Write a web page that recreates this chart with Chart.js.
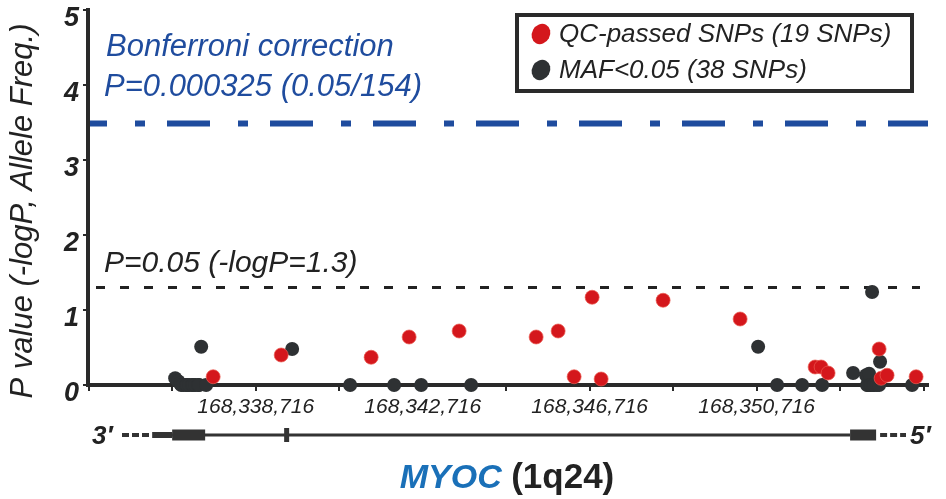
<!DOCTYPE html>
<html>
<head>
<meta charset="utf-8">
<script src="https://cdn.jsdelivr.net/npm/chart.js@4.4.1/dist/chart.umd.min.js"></script>
<style>
  html, body { margin: 0; padding: 0; background: #fff; }
</style>
</head>
<body>
<canvas id="chart" width="946" height="499"></canvas>
<script>
// SNP positions (bp, chr1) and -logP values
const qcPos = [168337698, 168339327, 168341482, 168342392, 168343590, 168345434, 168345961,
  168346344, 168346775, 168346991, 168348475, 168350320, 168352116, 168352260, 168352427,
  168353649, 168353697, 168353840, 168354535];
const qcLogP = [0.11, 0.40, 0.37, 0.64, 0.72, 0.64, 0.72, 0.11, 1.17, 0.08, 1.13, 0.88,
  0.24, 0.24, 0.16, 0.48, 0.09, 0.13, 0.11];

const mafPos = [168336788, 168336860, 168336908, 168336932, 168336979, 168337051, 168337075,
  168337123, 168337195, 168337219, 168337267, 168337339, 168337363, 168337411, 168337530,
  168339590, 168340979, 168342033, 168342680, 168343877, 168350751, 168351206, 168351805,
  168352284, 168353026, 168353337, 168353361, 168353385, 168353409, 168353433, 168353457,
  168353481, 168353505, 168353529, 168353601, 168353649, 168353672, 168354439];
const mafLogP = [0.09, 0.05, 0.02, 0, 0, 0, 0, 0, 0, 0, 0, 0, 0, 0.51, 0,
  0.48, 0, 0, 0, 0, 0.51, 0, 0, 0, 0.16, 0.13, 0, 0, 0.15, 0, 0, 1.24, 0, 0, 0, 0, 0.31, 0];

const seriesLabels = ['QC-passed SNPs (19 SNPs)', 'MAF<0.05 (38 SNPs)'];

const xTickValues = [168334716, 168336716, 168338716, 168340716, 168342716, 168344716,
  168346716, 168348716, 168350716, 168352716, 168354716];
const xTickLabels = [168338716, 168342716, 168346716, 168350716];
const yTicks = [0, 1, 2, 3, 4, 5];
const yTitle = 'P value (-logP, Allele Freq.)';

// significance thresholds (-logP)
const bonferroni = 3.488;
const nominal = 1.3;

// MYOC gene model (bp)
const exonStart = [168336237, 168336716, 168339398, 168352954];
const exonEnd = [168336716, 168337506, 168339518, 168353577];

const pts = (xs, ys) => xs.map((v, i) => ({ x: v, y: ys[i] }));

const overlay = {
  id: 'overlay',
  beforeDatasetsDraw(chart) {
    const { ctx, chartArea: a, scales: { y } } = chart;
    ctx.save();
    // bonferroni line
    let py = y.getPixelForValue(bonferroni);
    ctx.strokeStyle = '#1f4c9e';
    ctx.lineWidth = 6;
    ctx.setLineDash([43, 28, 10, 22]);
    ctx.lineDashOffset = 26;
    ctx.beginPath(); ctx.moveTo(a.left + 2, py); ctx.lineTo(a.right, py); ctx.stroke();
    ctx.fillStyle = '#1f4c9e';
    ctx.font = 'italic 31px "Liberation Sans", Arial, sans-serif';
    ctx.textBaseline = 'alphabetic';
    ctx.fillText('Bonferroni correction', 106, 56);
    ctx.fillText('P=0.000325 (0.05/154)', 104, 96);
    // p = 0.05 line
    py = y.getPixelForValue(nominal);
    ctx.strokeStyle = '#222';
    ctx.lineWidth = 3;
    ctx.setLineDash([9, 15]);
    ctx.lineDashOffset = 0;
    ctx.beginPath(); ctx.moveTo(a.left + 8, py); ctx.lineTo(a.right - 8, py); ctx.stroke();
    ctx.fillStyle = '#222';
    ctx.font = 'italic 30px "Liberation Sans", Arial, sans-serif';
    ctx.fillText('P=0.05 (-logP=1.3)', 104, 272);
    ctx.restore();
  },
  afterDraw(chart) {
    const { ctx, scales: { x } } = chart;
    ctx.save();
    // y axis title
    ctx.save();
    ctx.translate(23, 211);
    ctx.rotate(-Math.PI / 2);
    ctx.font = 'italic 31px "Liberation Sans", Arial, sans-serif';
    ctx.fillStyle = '#222';
    ctx.textAlign = 'center';
    ctx.textBaseline = 'middle';
    ctx.fillText(yTitle, 0, 0);
    ctx.restore();

    // legend box
    ctx.strokeStyle = '#2a2a2a';
    ctx.lineWidth = 4;
    ctx.strokeRect(517, 15, 395, 76);
    ctx.font = 'italic 26px "Liberation Sans", Arial, sans-serif';
    ctx.textBaseline = 'middle';
    chart.data.datasets.forEach((ds, i) => {
      const cy = 34 + i * 36;
      ctx.fillStyle = ds.backgroundColor;
      ctx.beginPath(); ctx.ellipse(541, cy, 9, 10.5, 0.5, 0, Math.PI * 2); ctx.fill();
      ctx.fillStyle = '#222';
      ctx.fillText(ds.label, 559, cy + 1);
    });

    // gene model
    const gy = 435;
    const heights = [6, 11, 14, 11];
    ctx.fillStyle = '#333';
    ctx.strokeStyle = '#333';
    ctx.lineWidth = 3;
    ctx.beginPath();
    ctx.moveTo(x.getPixelForValue(exonEnd[0]), gy);
    ctx.lineTo(x.getPixelForValue(exonStart[3]), gy);
    ctx.stroke();
    exonStart.forEach((s, i) => {
      const x0 = x.getPixelForValue(s), x1 = x.getPixelForValue(exonEnd[i]);
      ctx.fillRect(x0, gy - heights[i] / 2, Math.max(x1 - x0, 4), heights[i]);
    });
    // flanking dashes
    ctx.lineWidth = 4;
    ctx.setLineDash([7, 3]);
    ctx.beginPath();
    ctx.moveTo(122, gy); ctx.lineTo(x.getPixelForValue(exonStart[0]) - 1, gy);
    ctx.moveTo(x.getPixelForValue(exonEnd[3]) + 4, gy); ctx.lineTo(906, gy);
    ctx.stroke();
    ctx.setLineDash([]);
    ctx.fillStyle = '#222';
    ctx.font = 'bold italic 26px "Liberation Sans", Arial, sans-serif';
    ctx.textBaseline = 'alphabetic';
    ctx.fillText('3\u2032', 92, 444);
    ctx.fillText('5\u2032', 910, 444);

    // gene name
    ctx.font = 'bold italic 34px "Liberation Sans", Arial, sans-serif';
    const w1 = ctx.measureText('MYOC ').width;
    const wM = ctx.measureText('MYOC').width;
    ctx.font = 'bold 35px "Liberation Sans", Arial, sans-serif';
    const w2 = ctx.measureText('(1q24)').width;
    const sx = 507 - (w1 + w2) / 2;
    ctx.font = 'bold italic 34px "Liberation Sans", Arial, sans-serif';
    ctx.fillStyle = '#1a70b8';
    ctx.fillText('MYOC', sx, 488);
    ctx.font = 'bold 35px "Liberation Sans", Arial, sans-serif';
    ctx.fillStyle = '#222';
    ctx.fillText('(1q24)', sx + Math.max(w1, wM + 8), 488);
    ctx.restore();
  }
};

new Chart(document.getElementById('chart').getContext('2d'), {
  type: 'scatter',
  data: {
    datasets: [
      {
        label: seriesLabels[0],
        data: pts(qcPos, qcLogP),
        backgroundColor: '#d4171c',
        borderColor: 'rgba(235, 90, 80, 0.7)',
        borderWidth: 1,
        pointRadius: 7,
        clip: false
      },
      {
        label: seriesLabels[1],
        data: pts(mafPos, mafLogP),
        backgroundColor: '#2e3133',
        borderColor: '#2e3133',
        borderWidth: 0,
        pointRadius: 7,
        clip: false
      }
    ]
  },
  options: {
    responsive: false,
    animation: false,
    events: [],
    layout: { padding: { top: 10, right: 18, left: 0, bottom: 0 } },
    plugins: { legend: { display: false }, tooltip: { enabled: false } },
    scales: {
      x: {
        type: 'linear',
        min: 168334700,
        max: 168354820,
        afterFit(scale) { scale.height = 114; scale.paddingLeft = 0; scale.paddingRight = 0; },
        afterBuildTicks(scale) { scale.ticks = xTickValues.map(v => ({ value: v })); },
        border: { display: true, width: 4, color: '#2a2a2a' },
        grid: { drawOnChartArea: false, drawTicks: true, tickLength: 6, lineWidth: 2, color: '#2a2a2a' },
        ticks: {
          autoSkip: false,
          maxRotation: 0,
          padding: 4,
          color: '#222',
          font: { family: '"Liberation Sans", Arial, sans-serif', size: 21, style: 'italic' },
          callback: v => xTickLabels.includes(v) ? v.toLocaleString('en-US') : ''
        }
      },
      y: {
        min: 0,
        max: 5,
        afterFit(scale) { scale.width = 88; scale.paddingTop = 0; scale.paddingBottom = 0; },
        afterBuildTicks(scale) { scale.ticks = yTicks.map(v => ({ value: v })); },
        border: { display: true, width: 4, color: '#2a2a2a' },
        grid: { drawOnChartArea: false, drawTicks: true, tickLength: 5, lineWidth: 2, color: '#2a2a2a' },
        ticks: {
          padding: 4,
          labelOffset: 9,
          color: '#222',
          font: { family: '"Liberation Sans", Arial, sans-serif', size: 27, style: 'italic', weight: 'bold' }
        },
        title: { display: false }
      }
    }
  },
  plugins: [overlay]
});
</script>
</body>
</html>
